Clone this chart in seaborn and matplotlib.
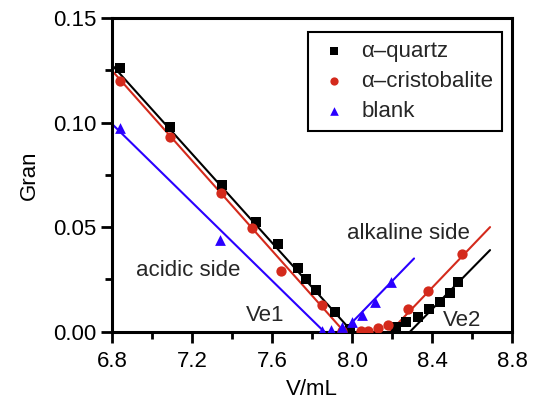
import numpy as np
import pandas as pd
import matplotlib
matplotlib.use("Agg")
import matplotlib.pyplot as plt
from matplotlib.ticker import MultipleLocator, FormatStrFormatter
import seaborn as sns

# ---- data ----
series_names = ["α–quartz", "α–cristobalite", "blank"]

quartz_V = [6.84, 7.09, 7.35, 7.52, 7.63, 7.73, 7.77, 7.82, 7.915, 7.99,
            8.22, 8.27, 8.33, 8.385, 8.44, 8.49, 8.53]
quartz_G = [0.1259, 0.098, 0.070, 0.0525, 0.0419, 0.0302, 0.025, 0.0199, 0.0095, 0.0012,
            0.0023, 0.0047, 0.0071, 0.011, 0.0143, 0.0187, 0.0238]

cristo_V = [6.84, 7.09, 7.345, 7.50, 7.645, 7.85, 7.95, 8.045, 8.08, 8.13, 8.18,
            8.28, 8.38, 8.55]
cristo_G = [0.120, 0.0932, 0.0664, 0.0494, 0.029, 0.0127, 0.0004, 0.0001, 0.0004,
            0.0017, 0.003, 0.0106, 0.0195, 0.037]

blank_V = [6.84, 7.34, 7.85, 7.895, 7.95, 8.00, 8.05, 8.115, 8.195]
blank_G = [0.0975, 0.0438, 0.0005, 0.0007, 0.002, 0.0045, 0.0078, 0.014, 0.0238]

# fitted straight lines (end points)
quartz_fit_acid_V = [6.80, 8.00]
quartz_fit_acid_G = [0.1275, 0.0]
quartz_fit_alk_V = [8.29, 8.69]
quartz_fit_alk_G = [0.0, 0.039]
cristo_fit_acid_V = [6.80, 7.96]
cristo_fit_acid_G = [0.1248, 0.0]
cristo_fit_alk_V = [8.19, 8.69]
cristo_fit_alk_G = [0.0, 0.050]
blank_fit_acid_V = [6.80, 7.86]
blank_fit_acid_G = [0.0993, 0.0]
blank_fit_alk_V = [7.955, 8.31]
blank_fit_alk_G = [0.0, 0.035]

x_ticks = [6.8, 7.2, 7.6, 8.0, 8.4, 8.8]
y_ticks = [0.00, 0.05, 0.10, 0.15]

colors = {"α–quartz": "#000000", "α–cristobalite": "#d42a1c", "blank": "#2a00ff"}
markers = {"α–quartz": "s", "α–cristobalite": "o", "blank": "^"}
msizes = {"α–quartz": 42, "α–cristobalite": 55, "blank": 60}

points = pd.concat([
    pd.DataFrame({"V": quartz_V, "G": quartz_G, "series": series_names[0]}),
    pd.DataFrame({"V": cristo_V, "G": cristo_G, "series": series_names[1]}),
    pd.DataFrame({"V": blank_V, "G": blank_G, "series": series_names[2]}),
])
fits = pd.concat([
    pd.DataFrame({"V": quartz_fit_acid_V, "G": quartz_fit_acid_G, "series": series_names[0], "seg": "qa"}),
    pd.DataFrame({"V": quartz_fit_alk_V, "G": quartz_fit_alk_G, "series": series_names[0], "seg": "qb"}),
    pd.DataFrame({"V": cristo_fit_acid_V, "G": cristo_fit_acid_G, "series": series_names[1], "seg": "ca"}),
    pd.DataFrame({"V": cristo_fit_alk_V, "G": cristo_fit_alk_G, "series": series_names[1], "seg": "cb"}),
    pd.DataFrame({"V": blank_fit_acid_V, "G": blank_fit_acid_G, "series": series_names[2], "seg": "ba"}),
    pd.DataFrame({"V": blank_fit_alk_V, "G": blank_fit_alk_G, "series": series_names[2], "seg": "bb"}),
])

sns.set_style("ticks")
plt.rcParams["font.family"] = ["Liberation Sans", "DejaVu Sans"]
FS = 16

fig, ax = plt.subplots(figsize=(5.39, 4.01), dpi=100)
fig.subplots_adjust(left=0.208, right=0.950, top=0.955, bottom=0.173)

sns.lineplot(data=fits, x="V", y="G", hue="series", units="seg", estimator=None,
             palette=colors, linewidth=1.5, legend=False, ax=ax, zorder=2)

for name in series_names:
    sub = points[points["series"] == name]
    sns.scatterplot(data=sub, x="V", y="G", color=colors[name], marker=markers[name],
                    s=msizes[name], linewidth=0, label=name, ax=ax, zorder=3)

ax.set_xlim(6.8, 8.8)
ax.set_ylim(0, 0.15)
ax.set_xticks(x_ticks)
ax.set_yticks(y_ticks)
ax.xaxis.set_minor_locator(MultipleLocator(0.2))
ax.yaxis.set_minor_locator(MultipleLocator(0.025))
ax.xaxis.set_major_formatter(FormatStrFormatter("%.1f"))
ax.yaxis.set_major_formatter(FormatStrFormatter("%.2f"))
ax.tick_params(which="major", direction="out", length=8, width=2, labelsize=FS,
               color="black", labelcolor="black")
ax.tick_params(axis="x", which="major", pad=6)
ax.tick_params(which="minor", direction="out", length=5, width=2, color="black")
for sp in ax.spines.values():
    sp.set_linewidth(2.2)
    sp.set_color("black")
    sp.set_visible(True)

ax.set_xlabel("V/mL", fontsize=FS, color="black", labelpad=5)
ax.set_ylabel("Gran", fontsize=FS, color="black", labelpad=9)

ax.text(7.18, 0.0294, "acidic side", ha="center", va="center", fontsize=FS)
ax.text(7.565, 0.0079, "Ve1", ha="center", va="center", fontsize=FS)
ax.text(8.28, 0.047, "alkaline side", ha="center", va="center", fontsize=FS)
ax.text(8.55, 0.0055, "Ve2", ha="center", va="center", fontsize=FS)

leg = ax.legend(loc="upper right", bbox_to_anchor=(0.975, 0.955), frameon=True,
                fancybox=False, edgecolor="black", framealpha=1, fontsize=FS,
                handlelength=1.6, handletextpad=0.4, borderpad=0.4,
                labelspacing=0.4, markerscale=0.8, borderaxespad=0)
leg.get_frame().set_linewidth(1.5)

fig.savefig("out.png", dpi=100)
